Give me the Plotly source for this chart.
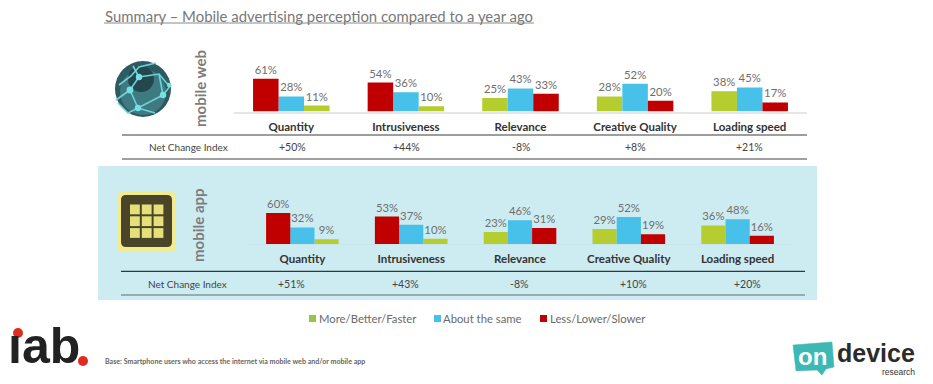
import plotly.graph_objects as go

W, H = 933, 384
categories = ["Quantity", "Intrusiveness", "Relevance", "Creative Quality", "Loading speed"]
series_names = ["More/Better/Faster", "About the same", "Less/Lower/Slower"]
web_more = [11, 10, 25, 28, 38]
web_same = [28, 36, 43, 52, 45]
web_less = [61, 54, 33, 20, 17]
app_more = [9, 10, 23, 29, 36]
app_same = [32, 37, 46, 52, 48]
app_less = [60, 53, 31, 19, 16]
web_net = ["+50%", "+44%", "-8%", "+8%", "+21%"]
app_net = ["+51%", "+43%", "-8%", "+10%", "+20%"]
# 1 = green on the right (red first), 0 = green on the left
reversed_order = [1, 1, 0, 0, 0]

RED, BLUE, GREEN = "#C00000", "#47C1E9", "#B5CD2E"
GREY = "#6E6E6E"
BW = 0.2225
FONT = "Lato"

def px(x): return x / W
def py(y): return 1 - y / H

fig = go.Figure()
pos = {"more": [(BW / 2 if r else -1.5 * BW) for r in reversed_order],
       "same": [-BW / 2 for _ in reversed_order],
       "less": [(-1.5 * BW if r else BW / 2) for r in reversed_order]}

for xa, ya, more, same, less in [("x", "y", web_more, web_same, web_less),
                                 ("x2", "y2", app_more, app_same, app_less)]:
    for name, vals, col, key in [(series_names[0], more, GREEN, "more"),
                                 (series_names[1], same, BLUE, "same"),
                                 (series_names[2], less, RED, "less")]:
        fig.add_trace(go.Bar(x=categories, y=vals, name=name, xaxis=xa, yaxis=ya,
                             width=BW, offset=pos[key], marker=dict(color=col, line=dict(width=0)),
                             text=[f"{v}%" for v in vals], textposition="outside",
                             textangle=0, constraintext="none", cliponaxis=False,
                             textfont=dict(family=FONT, size=11.3, color=GREY), showlegend=False))

shapes, ann = [], []
def rect(x0, y0, x1, y1, fill, layer="below"):
    shapes.append(dict(type="rect", xref="paper", yref="paper", x0=px(x0), x1=px(x1), y0=py(y0), y1=py(y1),
                       fillcolor=fill, line=dict(width=0), layer=layer))
def round_rect(x0, y0, x1, y1, r, fill):
    d = (f"M{px(x0 + r)},{py(y0)}L{px(x1 - r)},{py(y0)}Q{px(x1)},{py(y0)} {px(x1)},{py(y0 + r)}"
         f"L{px(x1)},{py(y1 - r)}Q{px(x1)},{py(y1)} {px(x1 - r)},{py(y1)}"
         f"L{px(x0 + r)},{py(y1)}Q{px(x0)},{py(y1)} {px(x0)},{py(y1 - r)}"
         f"L{px(x0)},{py(y0 + r)}Q{px(x0)},{py(y0)} {px(x0 + r)},{py(y0)}Z")
    shapes.append(dict(type="path", xref="paper", yref="paper", path=d, fillcolor=fill,
                       line=dict(width=0), layer="above"))
def hline(x0, x1, y, col, w):
    shapes.append(dict(type="line", xref="paper", yref="paper", x0=px(x0), x1=px(x1), y0=py(y), y1=py(y),
                       line=dict(color=col, width=w), layer="above"))
def circle(cx, cy, r, fill):
    shapes.append(dict(type="circle", xref="paper", yref="paper", x0=px(cx - r), x1=px(cx + r), y0=py(cy - r), y1=py(cy + r),
                       fillcolor=fill, line=dict(width=0), layer="above"))
def text(x, y, t, size=12, color=GREY, anchor="center", family=FONT, angle=0, weight=None):
    f = dict(family=family, size=size, color=color)
    if weight:
        f["weight"] = weight
    ann.append(dict(xref="paper", yref="paper", x=px(x), y=py(y), text=t, showarrow=False, xanchor=anchor,
                    yanchor="middle", textangle=angle, font=f))
def path(pts, col, w=1.5, fill=None):
    d = "M" + "L".join(f"{px(a)},{py(b)}" for a, b in pts)
    if fill:
        d += "Z"
    shapes.append(dict(type="path", xref="paper", yref="paper", path=d, fillcolor=fill,
                       line=dict(color=col, width=w), layer="above"))

# panel
rect(98, 166, 817, 300, "#CDECF2")
# title
text(103, 16, "Summary – Mobile advertising perception compared to a year ago", 14.9, "#787878", "left")
hline(104, 534, 23, "#8a8a8a", 1)
# table rules
hline(122, 807, 135, "#3c3c3c", 1.2)
hline(122, 807, 159, "#808080", 1.6)
hline(121, 805, 271.3, "#2f3a3c", 1.2)
hline(121, 805, 295, "#5f6f73", 1.2)
# Net change rows
text(188.5, 147.5, "Net Change Index", 10, "#444444")
text(187.5, 283.5, "Net Change Index", 10, "#444444")
for i, v in enumerate(web_net):
    text(292.5 + 114.3 * i, 147.5, v, 10.5, "#444444")
for i, v in enumerate(app_net):
    text(291 + 114.2 * i, 283.5, v, 10.5, "#444444")
# side labels
text(200, 89, "mobile web", 15, "#7c7c7c", angle=-90, weight="bold")
text(198, 225, "mobile app", 15, "#7c7c7c", angle=-90, weight="bold")
# legend
for sx, tx, name, col in [(309, 317, series_names[0], "#92C84A"),
                          (434, 441, series_names[1], "#47C1E9"),
                          (540, 548, series_names[2], RED)]:
    rect(sx, 315, sx + 7, 322, col, "above")
    text(tx, 318, name, 11.3, "#6a6a6a", "left")
# footnote
text(103, 361.5, "Base: Smartphone users who access the internet via mobile web and/or mobile app",
     7.1, "#666666", "left", weight="bold")

# globe icon
circle(143, 89, 28, "#2E5A62")
circle(143, 92, 23, "#3D7A82")
circle(141, 79, 13, "#24474E")
for seg in [[(119, 85), (131, 76), (139, 67), (156, 63)],
            [(139, 77), (159, 74), (170, 87)],
            [(130, 90), (139, 77), (133, 66)],
            [(130, 90), (138, 108), (163, 95), (159, 74)],
            [(130, 90), (116, 100)],
            [(138, 108), (128, 113), (118, 103)],
            [(163, 95), (171, 85)],
            [(138, 108), (155, 113)]]:
    path(seg, "#6FD3D6", 1.6)
for cx, cy, r in [(139, 77, 3.2), (130, 90, 3.4), (163, 95, 3.2), (138, 108, 3.2), (169, 85, 2.2)]:
    circle(cx, cy, r, "#76E0E4")

# app icon
round_rect(117, 192, 176, 252, 6, "#F2EC8E")
round_rect(121, 195, 172, 247, 5, "#4A4528")
for r in range(3):
    for c in range(3):
        x0 = 130 + c * 11.8
        y0 = 204.5 + r * 11.8
        rect(x0, y0, x0 + 9.8, y0 + 9.8, "#E6E07A", "above")

# iab logo
text(44, 346, "<b>ıab</b>", 50, "#222222", family="Liberation Sans")
circle(18, 333, 5, "#E02B20")
circle(83, 361, 5, "#E02B20")

# on device logo
path([(793, 345), (832, 342), (834, 367), (826, 369), (822, 375), (817, 370), (796, 371)], "#3DB8B5", 0.5, "#3DB8B5")
text(812, 356, "<b>on</b>", 24, "white", family="Liberation Sans")
text(876, 353, "<b>device</b>", 25, "#2B2B2B", family="Liberation Sans")
text(898, 372, "research", 8.5, "#333333", family="Liberation Sans")

axis_common = dict(type="category", categoryorder="array", categoryarray=categories, ticks="outside",
                   ticklen=4, tickcolor="rgba(0,0,0,0)", showgrid=False, showline=True, zeroline=False,
                   tickfont=dict(family=FONT, size=11.5, color="#333333", weight="bold"), fixedrange=True)
y_common = dict(showgrid=False, zeroline=False, showticklabels=False, showline=False, fixedrange=True)

WEB_Y0, WEB_K = 111.5, 0.536
APP_Y0, APP_K = 244.0, 0.517
TOP = 70
fig.update_layout(
    width=W, height=H, margin=dict(l=0, r=0, t=0, b=0), autosize=False,
    paper_bgcolor="white", plot_bgcolor="rgba(0,0,0,0)", barmode="overlay", showlegend=False,
    xaxis=dict(domain=[px(234), px(807)], anchor="y", linecolor="#E6E6E6", linewidth=1.5, **axis_common),
    yaxis=dict(domain=[py(WEB_Y0), py(WEB_Y0 - WEB_K * TOP)], range=[0, TOP], anchor="x", **y_common),
    xaxis2=dict(domain=[px(248), px(792)], anchor="y2", linecolor="#C6E4EA", linewidth=1, **axis_common),
    yaxis2=dict(domain=[py(APP_Y0), py(APP_Y0 - APP_K * TOP)], range=[0, TOP], anchor="x2", **y_common),
    shapes=shapes, annotations=ann,
)
fig.write_html("out.html", config=dict(displayModeBar=False),
               post_script="document.body.style.margin='0';document.documentElement.style.overflow='hidden';")
